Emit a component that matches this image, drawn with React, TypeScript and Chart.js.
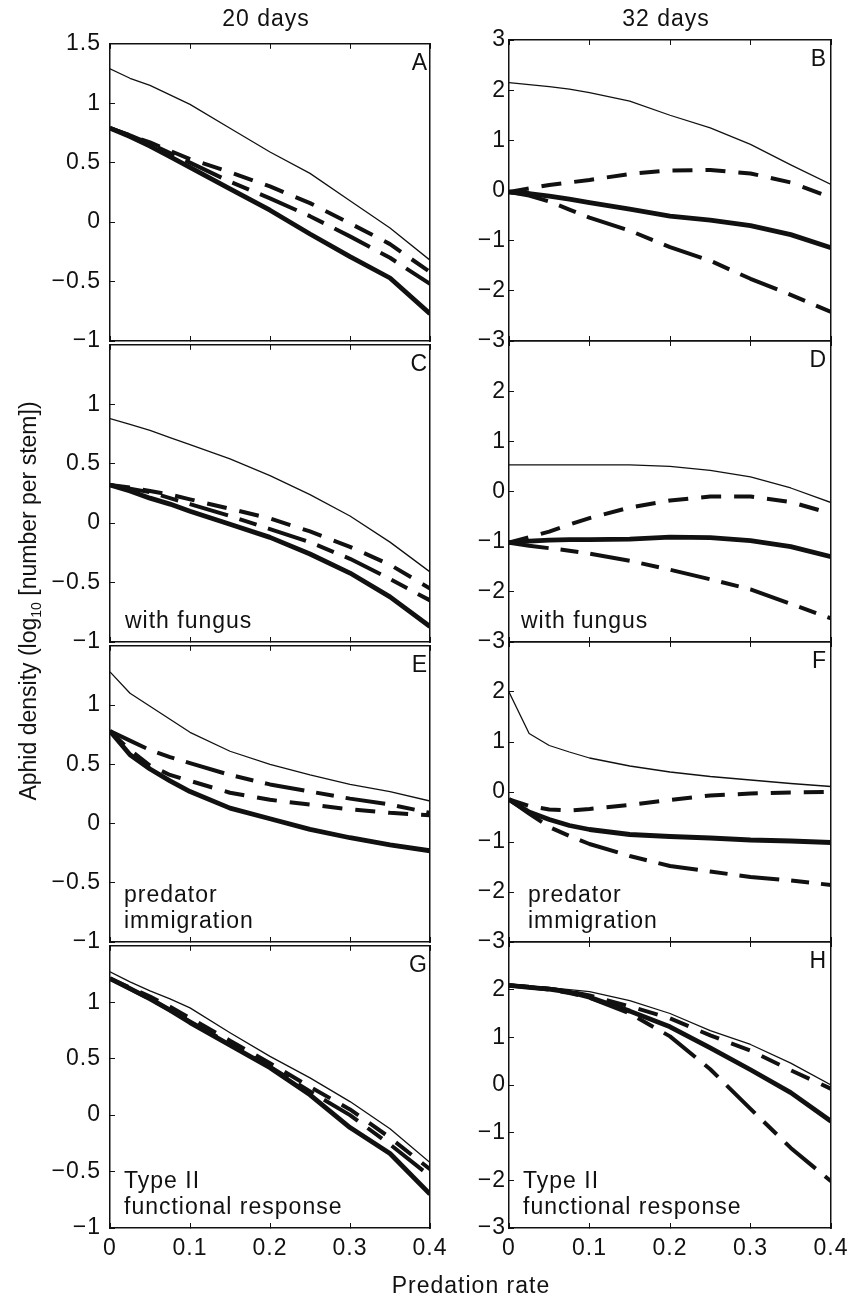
import React, { useEffect, useRef } from 'react';
import { Chart, registerables } from 'chart.js';

Chart.register(...registerables);

// ---------- data ----------
const X = [0, 0.025, 0.05, 0.075, 0.1, 0.15, 0.2, 0.25, 0.3, 0.35, 0.4];
const xTickValues = [0, 0.1, 0.2, 0.3, 0.4];
const leftYTicks = [-1, -0.5, 0, 0.5, 1, 1.5];
const rightYTicks = [-3, -2, -1, 0, 1, 2, 3];
const columnTitles = ['20 days', '32 days'];

// Panel A (20 days)
const A_thin = [1.29, 1.21, 1.15, 1.07, 0.99, 0.79, 0.59, 0.41, 0.18, -0.05, -0.32];
const A_thick = [0.79, 0.72, 0.64, 0.55, 0.46, 0.28, 0.1, -0.1, -0.29, -0.47, -0.77];
const A_short = [0.79, 0.73, 0.67, 0.6, 0.53, 0.42, 0.3, 0.16, -0.01, -0.185, -0.42];
const A_longShort = [0.79, 0.73, 0.66, 0.58, 0.5, 0.34, 0.2, 0.05, -0.12, -0.3, -0.52];
// Panel B (32 days)
const B_thin = [2.15, 2.11, 2.07, 2.02, 1.95, 1.78, 1.5, 1.25, 0.92, 0.51, 0.12];
const B_thick = [-0.03, -0.06, -0.11, -0.17, -0.24, -0.37, -0.51, -0.59, -0.7, -0.88, -1.14];
const B_short = [-0.03, 0.04, 0.11, 0.16, 0.21, 0.33, 0.4, 0.41, 0.34, 0.16, -0.14];
const B_longShort = [-0.03, -0.1, -0.22, -0.38, -0.54, -0.8, -1.13, -1.4, -1.76, -2.08, -2.42];
// Panel C (20 days, with fungus)
const C_thin = [0.88, 0.83, 0.78, 0.72, 0.66, 0.54, 0.4, 0.24, 0.06, -0.16, -0.41];
const C_thick = [0.32, 0.27, 0.21, 0.16, 0.1, -0.01, -0.12, -0.26, -0.42, -0.62, -0.87];
const C_short = [0.32, 0.3, 0.27, 0.24, 0.2, 0.12, 0.04, -0.07, -0.2, -0.35, -0.55];
const C_longShort = [0.32, 0.29, 0.26, 0.21, 0.16, 0.06, -0.05, -0.16, -0.3, -0.47, -0.65];
// Panel D (32 days, with fungus)
const D_thin = [0.53, 0.53, 0.53, 0.53, 0.53, 0.53, 0.5, 0.42, 0.29, 0.07, -0.22];
const D_thick = [-1.02, -0.99, -0.97, -0.96, -0.96, -0.95, -0.91, -0.92, -0.98, -1.1, -1.3];
const D_short = [-1.02, -0.91, -0.8, -0.66, -0.53, -0.32, -0.18, -0.1, -0.1, -0.21, -0.44];
const D_longShort = [-1.02, -1.08, -1.13, -1.18, -1.24, -1.38, -1.56, -1.75, -1.95, -2.24, -2.53];
// Panel E (20 days, predator immigration)
const E_thin = [1.28, 1.1, 0.99, 0.88, 0.77, 0.61, 0.5, 0.41, 0.33, 0.27, 0.19];
const E_thick = [0.78, 0.58, 0.46, 0.36, 0.27, 0.13, 0.04, -0.05, -0.12, -0.18, -0.23];
const E_short = [0.78, 0.62, 0.49, 0.41, 0.36, 0.26, 0.2, 0.16, 0.12, 0.09, 0.07];
const E_longShort = [0.78, 0.7, 0.62, 0.56, 0.51, 0.41, 0.33, 0.27, 0.21, 0.16, 0.09];
// Panel F (32 days, predator immigration)
const F_thin = [2.0, 1.17, 0.93, 0.8, 0.68, 0.52, 0.4, 0.31, 0.24, 0.17, 0.11];
const F_thick = [-0.15, -0.4, -0.55, -0.67, -0.75, -0.85, -0.89, -0.92, -0.96, -0.98, -1.01];
const F_short = [-0.15, -0.28, -0.35, -0.37, -0.34, -0.26, -0.16, -0.07, -0.03, -0.01, 0.0];
const F_longShort = [-0.15, -0.43, -0.7, -0.88, -1.04, -1.28, -1.48, -1.59, -1.7, -1.77, -1.86];
// Panel G (20 days, Type II functional response)
const G_thin = [1.27, 1.18, 1.1, 1.03, 0.95, 0.73, 0.52, 0.33, 0.12, -0.12, -0.42];
const G_thick = [1.21, 1.12, 1.03, 0.93, 0.82, 0.62, 0.42, 0.18, -0.11, -0.34, -0.7];
const G_short = [1.21, 1.13, 1.05, 0.96, 0.86, 0.66, 0.46, 0.25, 0.05, -0.2, -0.48];
const G_longShort = [1.21, 1.12, 1.03, 0.93, 0.83, 0.63, 0.43, 0.21, 0.0, -0.26, -0.54];
// Panel H (32 days, Type II functional response)
const H_thin = [2.12, 2.08, 2.04, 2.0, 1.96, 1.77, 1.5, 1.14, 0.85, 0.46, 0.0];
const H_thick = [2.09, 2.05, 2.01, 1.95, 1.84, 1.55, 1.22, 0.78, 0.32, -0.16, -0.76];
const H_short = [2.09, 2.06, 2.02, 1.96, 1.88, 1.65, 1.4, 1.04, 0.72, 0.31, -0.08];
const H_longShort = [2.09, 2.05, 2.0, 1.93, 1.83, 1.5, 1.02, 0.33, -0.5, -1.32, -2.02];

const noteFungus = ['with fungus'];
const noteImmigration = ['predator', 'immigration'];
const noteTypeII = ['Type II', 'functional response'];

const panels = [
  { letter: 'A', col: 0, row: 0, thin: A_thin, thick: A_thick, short: A_short, longShort: A_longShort, note: [] as string[], noteDx: 14 },
  { letter: 'B', col: 1, row: 0, thin: B_thin, thick: B_thick, short: B_short, longShort: B_longShort, note: [] as string[], noteDx: 14 },
  { letter: 'C', col: 0, row: 1, thin: C_thin, thick: C_thick, short: C_short, longShort: C_longShort, note: noteFungus, noteDx: 15 },
  { letter: 'D', col: 1, row: 1, thin: D_thin, thick: D_thick, short: D_short, longShort: D_longShort, note: noteFungus, noteDx: 12 },
  { letter: 'E', col: 0, row: 2, thin: E_thin, thick: E_thick, short: E_short, longShort: E_longShort, note: noteImmigration, noteDx: 14 },
  { letter: 'F', col: 1, row: 2, thin: F_thin, thick: F_thick, short: F_short, longShort: F_longShort, note: noteImmigration, noteDx: 19 },
  { letter: 'G', col: 0, row: 3, thin: G_thin, thick: G_thick, short: G_short, longShort: G_longShort, note: noteTypeII, noteDx: 14 },
  { letter: 'H', col: 1, row: 3, thin: H_thin, thick: H_thick, short: H_short, longShort: H_longShort, note: noteTypeII, noteDx: 14 },
];

// ---------- layout / style ----------
const COL_LEFT = [110, 509];
const COL_RIGHT = [430, 831];
const ROW_TOP = [40, 341, 642, 942];
const ROW_BOTTOM = [341, 642, 942, 1228];
const PADL = 100;
const PADT = 24;
const PADR = 48;
const PADB = 50;
const INK = '#111111';
const FONT = '"Liberation Sans", Arial, Helvetica, sans-serif';
const FONT_SIZE = 23;
const SPACING = '1px';

const fmt = (v: number) => {
  const r = Math.round(v * 100) / 100;
  return String(r).replace('-', '\u2212');
};

const panelTextPlugin = {
  id: 'panelText',
  beforeDraw(chart: any) {
    chart.ctx.letterSpacing = SPACING;
  },
  afterDraw(chart: any, _args: any, opts: any) {
    const { ctx, chartArea } = chart;
    ctx.save();
    ctx.letterSpacing = SPACING;
    ctx.font = `${FONT_SIZE}px ${FONT}`;
    ctx.fillStyle = INK;
    ctx.textBaseline = 'alphabetic';
    ctx.textAlign = 'right';
    ctx.fillText(opts.letter, chartArea.right - opts.letterDx, chartArea.top + 26);
    ctx.textAlign = 'left';
    const n = opts.note.length;
    opts.note.forEach((line: string, i: number) => {
      ctx.fillText(line, chartArea.left + opts.noteDx, chartArea.bottom - 14 - (n - 1 - i) * 26);
    });
    ctx.restore();
  },
};

function Panel({ p }: { p: (typeof panels)[number] }) {
  const ref = useRef<HTMLCanvasElement>(null);
  const plotL = COL_LEFT[p.col];
  const plotR = COL_RIGHT[p.col];
  const plotT = ROW_TOP[p.row];
  const plotB = ROW_BOTTOM[p.row];
  const W = plotR - plotL + PADL + PADR;
  const H = plotB - plotT + PADT + PADB;
  const isBottom = p.row === 3;
  const yTicks = p.col === 0 ? leftYTicks : rightYTicks;
  const yMin = yTicks[0];
  const yMax = yTicks[yTicks.length - 1];

  useEffect(() => {
    if (!ref.current) return;
    const xy = (arr: number[]) => arr.map((y, i) => ({ x: X[i], y }));
    const tickFont = { family: FONT, size: FONT_SIZE };
    const chart = new Chart(ref.current, {
      type: 'line',
      data: {
        datasets: [
          { data: xy(p.thin), borderColor: INK, borderWidth: 1.3 },
          { data: xy(p.short), borderColor: INK, borderWidth: 4, borderDash: [20, 13] },
          { data: xy(p.longShort), borderColor: INK, borderWidth: 4, borderDash: [40, 12, 18, 12] },
          { data: xy(p.thick), borderColor: INK, borderWidth: 4.8 },
        ],
      },
      options: {
        responsive: false,
        animation: false,
        events: [],
        layout: { padding: { left: 0, top: PADT, right: PADR, bottom: 0 } },
        elements: {
          point: { radius: 0 },
          line: { tension: 0, borderCapStyle: 'butt', borderJoinStyle: 'round', fill: false },
        },
        plugins: {
          legend: { display: false },
          tooltip: { enabled: false },
          panelText: {
            letter: p.letter,
            letterDx: p.col === 0 ? 2 : 4,
            note: p.note,
            noteDx: p.noteDx,
          },
        } as any,
        scales: {
          x: {
            type: 'linear',
            position: 'bottom',
            min: 0,
            max: 0.4,
            afterBuildTicks: (s: any) => {
              s.ticks = xTickValues.map((v) => ({ value: v }));
            },
            afterFit: (s: any) => {
              s.height = PADB;
            },
            ticks: {
              display: isBottom,
              padding: 12.2,
              color: INK,
              font: tickFont,
              maxRotation: 0,
              autoSkip: false,
              callback: (v: any) => (Number(v) === 0 ? '0' : Number(v).toFixed(1)),
            },
            grid: { drawOnChartArea: false, tickLength: -5, color: INK, lineWidth: 1 },
            border: { display: true, color: INK, width: 1.5 },
          },
          xTop: {
            type: 'linear',
            position: 'top',
            min: 0,
            max: 0.4,
            afterBuildTicks: (s: any) => {
              s.ticks = xTickValues.map((v) => ({ value: v }));
            },
            afterFit: (s: any) => {
              s.height = 0;
            },
            ticks: { display: false },
            grid: { drawOnChartArea: false, tickLength: -5, color: INK, lineWidth: 1 },
            border: { display: true, color: INK, width: 1.5 },
          },
          y: {
            type: 'linear',
            position: 'left',
            min: yMin,
            max: yMax,
            afterBuildTicks: (s: any) => {
              s.ticks = yTicks.map((v) => ({ value: v }));
            },
            afterFit: (s: any) => {
              s.width = PADL;
            },
            ticks: {
              padding: p.col === 0 ? 14 : 8,
              color: INK,
              font: tickFont,
              autoSkip: false,
              callback: (v: any) => (p.row > 0 && Number(v) === yMax ? '' : fmt(Number(v))),
            },
            grid: { drawOnChartArea: false, tickLength: -5, color: INK, lineWidth: 1 },
            border: { display: true, color: INK, width: 1.5 },
          },
          yRight: {
            type: 'linear',
            position: 'right',
            min: yMin,
            max: yMax,
            afterFit: (s: any) => {
              s.width = 0;
            },
            ticks: { display: false },
            grid: { drawOnChartArea: false, drawTicks: false },
            border: { display: true, color: INK, width: 1.5 },
          },
        },
      } as any,
      plugins: [panelTextPlugin as any],
    });
    return () => chart.destroy();
  }, []);

  return (
    <canvas
      ref={ref}
      width={W}
      height={H}
      style={{ position: 'absolute', left: plotL - PADL, top: plotT - PADT, width: W, height: H }}
    />
  );
}

const textStyle: React.CSSProperties = {
  position: 'absolute',
  fontFamily: FONT,
  fontSize: FONT_SIZE,
  lineHeight: '22px',
  color: INK,
  letterSpacing: SPACING,
  whiteSpace: 'nowrap',
  textAlign: 'center',
};

export default function App() {
  return (
    <div style={{ position: 'absolute', left: 0, top: 0, width: 849, height: 1297, background: '#fff', overflow: 'hidden' }}>
      {panels.map((p) => (
        <Panel key={p.letter} p={p} />
      ))}
      <div style={{ ...textStyle, left: 266 - 100, top: 6.5, width: 200 }}>{columnTitles[0]}</div>
      <div style={{ ...textStyle, left: 666 - 100, top: 6.5, width: 200 }}>{columnTitles[1]}</div>
      <div style={{ ...textStyle, left: 471 - 150, top: 1273.5, width: 300 }}>Predation rate</div>
      <div
        style={{
          ...textStyle,
          fontSize: 23,
          lineHeight: '24px',
          letterSpacing: 'normal',
          left: 27.5 - 250,
          top: 601 - 12,
          width: 500,
          height: 24,
          transform: 'rotate(-90deg)',
        }}
      >
        Aphid density (log<span style={{ fontSize: 14, verticalAlign: -5 }}>10</span> [number per stem])
      </div>
    </div>
  );
}
